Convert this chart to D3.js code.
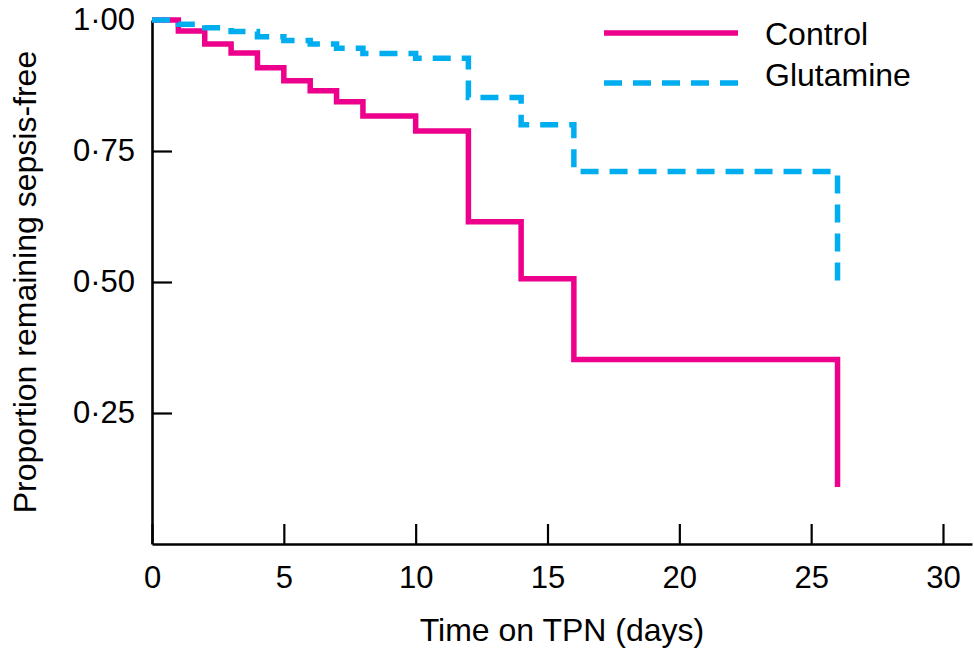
<!DOCTYPE html>
<html>
<head>
<meta charset="utf-8">
<script src="https://cdn.jsdelivr.net/npm/d3@7"></script>
<style>
  body { margin: 0; background: #fff; }
  text { font-family: "Liberation Sans", Arial, sans-serif; fill: #000; }
</style>
</head>
<body>
<svg id="chart" width="974" height="652"></svg>
<script>
// Kaplan-Meier style curves
const controlDays = [0, 1, 2, 3, 4, 5, 6, 7, 8, 10, 12, 14, 16, 26];
const controlFree = [1, 0.979, 0.954, 0.937, 0.909, 0.884, 0.865, 0.844, 0.817, 0.788, 0.615, 0.506, 0.352, 0.109];

const glutamineDays = [0, 1, 2, 3, 4, 5, 6, 7, 8, 10, 12, 14, 16, 26];
const glutamineFree = [1, 0.992, 0.985, 0.978, 0.968, 0.961, 0.954, 0.946, 0.936, 0.927, 0.852, 0.800, 0.711, 0.487];

const xTicks = [0, 5, 10, 15, 20, 25, 30];
const yTicks = [0.25, 0.5, 0.75, 1.0];

const seriesNames = ['Control', 'Glutamine'];
const seriesColors = ['#ec008c', '#00aeef'];

const svg = d3.select('#chart');

// plot area
const x = d3.scaleLinear().domain([0, 31.1]).range([152, 972]);
const y = d3.scaleLinear().domain([0, 1]).range([544, 20]);

// x axis, ticks pointing up into the plot
const xAxis = svg.append('g')
  .attr('transform', 'translate(0,' + y(0) + ')')
  .call(d3.axisBottom(x).tickValues(xTicks).tickSizeInner(-20).tickSizeOuter(0).tickPadding(22));

// y axis, ticks pointing right
const yAxis = svg.append('g')
  .attr('transform', 'translate(' + x(0) + ',0)')
  .call(d3.axisLeft(y).tickValues(yTicks).tickSizeInner(-20).tickSizeOuter(0).tickPadding(17)
    .tickFormat(d => d3.format('.2f')(d).replace('.', '\u00b7')));

[xAxis, yAxis].forEach(function(ax) {
  ax.select('.domain').attr('stroke', '#000').attr('stroke-width', 2.6);
  ax.selectAll('.tick line').attr('stroke', '#000').attr('stroke-width', 2.2);
  ax.selectAll('.tick text').attr('font-size', 31).attr('font-family', '"Liberation Sans", Arial, sans-serif');
});

// axis titles
svg.append('text')
  .attr('x', (x.range()[0] + x.range()[1]) / 2)
  .attr('y', 641)
  .attr('text-anchor', 'middle')
  .attr('font-size', 32)
  .text('Time on TPN (days)');

svg.append('text')
  .attr('transform', 'translate(36,' + ((y(0) + y(1)) / 2) + ') rotate(-90)')
  .attr('text-anchor', 'middle')
  .attr('font-size', 32)
  .text('Proportion remaining sepsis-free');

// step curves
const step = d3.line()
  .x(d => x(d[0]))
  .y(d => y(d[1]))
  .curve(d3.curveStepAfter);

const control = controlDays.map((d, i) => [d, controlFree[i]]);
const glutamine = glutamineDays.map((d, i) => [d, glutamineFree[i]]);

svg.append('path')
  .datum(control)
  .attr('d', step)
  .attr('fill', 'none')
  .attr('stroke', seriesColors[0])
  .attr('stroke-width', 5.5);

svg.append('path')
  .datum(glutamine)
  .attr('d', step)
  .attr('fill', 'none')
  .attr('stroke', seriesColors[1])
  .attr('stroke-width', 5.5)
  .attr('stroke-dasharray', '18,11');

// legend
const legend = svg.append('g');
const legendLineY = [33, 83];
const legendTextY = [45, 86];
seriesNames.forEach(function(name, i) {
  legend.append('line')
    .attr('x1', 604).attr('x2', 738)
    .attr('y1', legendLineY[i]).attr('y2', legendLineY[i])
    .attr('stroke', seriesColors[i])
    .attr('stroke-width', 5.5)
    .attr('stroke-dasharray', i === 1 ? '18,11' : null);
  legend.append('text')
    .attr('x', 765)
    .attr('y', legendTextY[i])
    .attr('font-size', 32)
    .text(name);
});
</script>
</body>
</html>
